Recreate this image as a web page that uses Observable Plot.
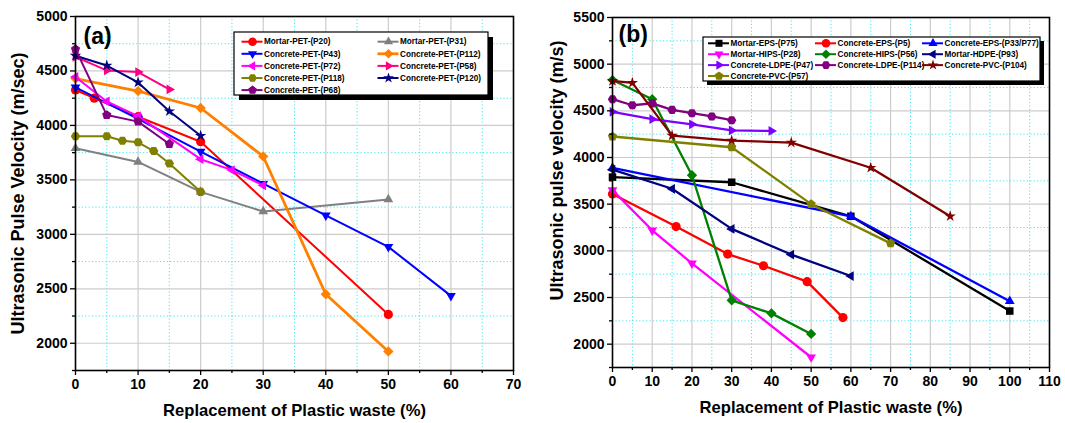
<!DOCTYPE html>
<html><head><meta charset="utf-8">
<script src="https://cdn.jsdelivr.net/npm/d3@7"></script>
<script src="https://cdn.jsdelivr.net/npm/@observablehq/plot@0.6"></script>
<style>
body{margin:0;background:#fff;}
#wrap{display:flex;width:1065px;height:423px;}
</style></head><body><div id="wrap"></div>
<script>
// ---------------- Panel (a) data ----------------
const namesA = ["Mortar-PET-(P20)","Mortar-PET-(P31)","Concrete-PET-(P43)","Concrete-PET-(P112)","Concrete-PET-(P72)","Concrete-PET-(P58)","Concrete-PET-(P118)","Concrete-PET-(P120)","Concrete-PET-(P68)"];
const P20_x = [0,3,10,20,50],            P20_y = [4325,4250,4080,3850,2265];
const P31_x = [0,10,20,30,50],           P31_y = [3790,3665,3390,3210,3320];
const P43_x = [0,10,20,30,40,50,60],     P43_y = [4350,4060,3760,3465,3175,2885,2435];
const P112_x = [0,10,20,30,40,50],       P112_y = [4430,4315,4160,3715,2450,1925];
const P72_x = [0,5,10,20,25,30],         P72_y = [4445,4220,4085,3690,3590,3450];
const P58_x = [0,5,10,15],               P58_y = [4630,4505,4490,4330];
const P118_x = [0,5,7.5,10,12.5,15,20],  P118_y = [3900,3900,3860,3845,3765,3650,3390];
const P120_x = [0,5,10,15,20],           P120_y = [4640,4550,4395,4130,3905];
const P68_x = [0,5,10,15],               P68_y = [4700,4095,4035,3830];
const xTicksA = [0,10,20,30,40,50,60,70];
const yTicksA = [2000,2500,3000,3500,4000,4500,5000];

// ---------------- Panel (b) data ----------------
const namesB = ["Mortar-EPS-(P75)","Concrete-EPS-(P5)","Concrete-EPS-(P33/P77)","Mortar-HIPS-(P28)","Concrete-HIPS-(P56)","Mortar-HDPE-(P93)","Concrete-LDPE-(P47)","Concrete-LDPE-(P114)","Concrete-PVC-(P104)","Concrete-PVC-(P57)"];
const P75_x = [0,30,60,100],             P75_y = [3790,3735,3370,2355];
const P5_x = [0,16,29,38,49,58],         P5_y = [3610,3260,2965,2840,2670,2285];
const P33_x = [0,60,100],                P33_y = [3890,3370,2460];
const P28_x = [0,10,20,50],              P28_y = [3650,3220,2865,1860];
const P56_x = [0,10,20,30,40,50],        P56_y = [4830,4625,3810,2470,2330,2110];
const P93_x = [0,15,30,45,60],           P93_y = [3870,3665,3235,2960,2730];
const P47_x = [0,10,20,30,40],           P47_y = [4490,4410,4355,4290,4285];
const P114_x = [0,5,10,15,20,25,30],     P114_y = [4625,4560,4580,4510,4475,4440,4400];
const P104_x = [0,5,15,30,45,65,85],     P104_y = [4820,4800,4235,4180,4160,3890,3370];
const P57_x = [0,30,50,70],              P57_y = [4225,4110,3500,3080];
const xTicksB = [0,10,20,30,40,50,60,70,80,90,100,110];
const yTicksB = [2000,2500,3000,3500,4000,4500,5000,5500];

const seriesA = [[P20_x,P20_y],[P31_x,P31_y],[P43_x,P43_y],[P112_x,P112_y],[P72_x,P72_y],[P58_x,P58_y],[P118_x,P118_y],[P120_x,P120_y],[P68_x,P68_y]];
const seriesB = [[P75_x,P75_y],[P5_x,P5_y],[P33_x,P33_y],[P28_x,P28_y],[P56_x,P56_y],[P93_x,P93_y],[P47_x,P47_y],[P114_x,P114_y],[P104_x,P104_y],[P57_x,P57_y]];

// ---------------- symbols ----------------
const s3 = Math.sqrt(3);
function tri(theta, k=0.62){ return {draw(ctx,size){
  const y = -Math.sqrt(size*k/(s3*3)); const c=Math.cos(theta), s=Math.sin(theta);
  [[0,2*y],[-s3*y,-y],[s3*y,-y]].forEach(([px,py],i)=>{const X=px*c-py*s, Y=px*s+py*c; i?ctx.lineTo(X,Y):ctx.moveTo(X,Y);});
  ctx.closePath(); }}; }
function poly(n, k, off){ return {draw(ctx,size){
  const R = Math.sqrt(2*size*k/(n*Math.sin(2*Math.PI/n)));
  for(let i=0;i<n;i++){const a=off+2*Math.PI*i/n; const X=R*Math.cos(a), Y=R*Math.sin(a); i?ctx.lineTo(X,Y):ctx.moveTo(X,Y);}
  ctx.closePath(); }}; }
function scaleSym(base,k){ return {draw(ctx,size){ base.draw(ctx,size*k); }}; }
const diamond = {draw(ctx,size){ const h=Math.sqrt(size*0.8/2); ctx.moveTo(0,-h); ctx.lineTo(h,0); ctx.lineTo(0,h); ctx.lineTo(-h,0); ctx.closePath(); }};
const SYM = {
  circle: d3.symbolCircle, square: scaleSym(d3.symbolSquare,0.85),
  up: tri(0), down: tri(Math.PI), left: tri(-Math.PI/2), right: tri(Math.PI/2),
  diamond, hexagon: poly(6,0.85,0), star: scaleSym(d3.symbolStar,0.6), pentagon: poly(5,0.85,-Math.PI/2)
};

// styles (kept separate from data)
const colorsA = ["#ff0000","#808080","#0000ff","#ff8000","#ff00ff","#ff0080","#808000","#000080","#800080"];
const symbolsA = ["circle","up","down","diamond","left","right","hexagon","star","pentagon"];
const widthsA = [2,2,2,2.8,2,2,2,2,2];
const colorsB = ["#000000","#ff0000","#0000ff","#ff00ff","#008000","#000080","#8000ff","#800080","#800000","#808000"];
const symbolsB = ["square","circle","up","down","diamond","left","right","hexagon","star","pentagon"];

const FONT = '"Liberation Sans", Arial, sans-serif';

function panel(opts){
  const {series, colors, symbols, widths, lw, xDomain, yDomain, xTicks, yTicks, width, margins, tag, tagDx, tagDy, xLabel, yLabel, yLabelDx, yLabelDy} = opts;
  const minorX = d3.range(xDomain[0]+5, xDomain[1], 10);
  const minorY = d3.range(yDomain[0], yDomain[1], 500).filter(v=>v>yDomain[0]);
  const majX = xTicks.filter(v=>v>xDomain[0] && v<xDomain[1]);
  const majY = yTicks.filter(v=>v>yDomain[0] && v<yDomain[1]);
  const marks = [
    Plot.ruleX(minorX, {stroke:"#40e8f0", strokeDasharray:"1.2,2.2", strokeWidth:1}),
    Plot.ruleY(minorY, {stroke:"#40e8f0", strokeDasharray:"1.2,2.2", strokeWidth:1}),
    Plot.ruleX(majX, {stroke:"#cccccc", strokeWidth:1.2}),
    Plot.ruleY(majY, {stroke:"#cccccc", strokeWidth:1.2}),
  ];
  series.forEach(([xs,ys],i)=>{
    const pts = xs.map((x,j)=>({x, y: ys[j]}));
    marks.push(Plot.line(pts, {x:"x", y:"y", stroke: colors[i], strokeWidth: widths ? widths[i] : lw}));
    marks.push(Plot.dot(pts, {x:"x", y:"y", symbol: SYM[symbols[i]], r:4.6, fill: colors[i], stroke:"none"}));
  });
  marks.push(
    Plot.frame({stroke:"#000", strokeWidth:1.6}),
    Plot.axisX({ticks: xTicks, tickSize:5, tickPadding:4, fontSize:14, fontWeight:"bold", label:null, stroke:"#000", strokeWidth:1.3, tickFormat:d=>String(d)}),
    Plot.axisX({ticks: d3.range(xDomain[0]+5, xDomain[1], 10), tickSize:3, tickFormat:()=>"", label:null, stroke:"#000", strokeWidth:1.3}),
    Plot.axisY({ticks: yTicks, tickSize:5, tickPadding:3, fontSize:14, fontWeight:"bold", label:null, stroke:"#000", strokeWidth:1.3, tickFormat:d=>String(d)}),
    Plot.axisY({ticks: minorY.filter(v=>v%500!==0).concat([yDomain[0]]), tickSize:3, tickFormat:()=>"", label:null, stroke:"#000", strokeWidth:1.3}),
    Plot.text([tag], {frameAnchor:"top-left", dx:tagDx, dy:tagDy, fontSize:23, fontWeight:"bold", textAnchor:"start", lineAnchor:"middle", fill:"#000"}),
    Plot.text([xLabel], {frameAnchor:"bottom", dy:40, fontSize:16.6, fontWeight:"bold", textAnchor:"middle", lineAnchor:"middle", fill:"#000"}),
    Plot.text([yLabel], {frameAnchor:"left", dx:yLabelDx, dy:yLabelDy, rotate:-90, fontSize:18, fontWeight:"bold", textAnchor:"middle", lineAnchor:"middle", fill:"#000"})
  );
  return Plot.plot({
    width, height:423, ...margins,
    x:{domain:xDomain}, y:{domain:yDomain},
    style:{fontFamily:FONT, fontWeight:"bold", background:"#fff", overflow:"visible"},
    marks
  });
}

function legend(svg, {x0, y0, w, h, shadow, rows, cols, names, colors, symbols, widths}){
  const g = d3.select(svg).append("g").attr("font-family", FONT).attr("font-weight","bold").attr("font-size",8.2).attr("text-anchor","start");
  g.append("rect").attr("x",x0+shadow).attr("y",y0+shadow).attr("width",w).attr("height",h).attr("fill","#000");
  g.append("rect").attr("x",x0).attr("y",y0).attr("width",w).attr("height",h).attr("fill","#fff").attr("stroke","#000").attr("stroke-width",1.2);
  names.forEach((name,i)=>{
    const r = Math.floor(i/cols.length), c = i%cols.length;
    const cy = rows.start + rows.step*r, mx = cols[c];
    g.append("line").attr("x1",mx-11).attr("x2",mx+10).attr("y1",cy).attr("y2",cy).attr("stroke",colors[i]).attr("stroke-width",widths ? widths[i] : 2);
    g.append("path").attr("d", d3.symbol(SYM[symbols[i]], 4.3*4.3*Math.PI)()).attr("transform",`translate(${mx},${cy})`).attr("fill",colors[i]);
    g.append("text").attr("x",mx+11.5).attr("y",cy).attr("dy","0.34em").attr("fill","#000").attr("text-anchor","start").text(name);
  });
}

const wrap = document.getElementById("wrap");
const svgA = panel({series:seriesA, colors:colorsA, symbols:symbolsA, widths:widthsA, xDomain:[0,70], yDomain:[1750,5000], xTicks:xTicksA, yTicks:yTicksA,
  width:540, margins:{marginLeft:75, marginRight:27, marginTop:16, marginBottom:53}, tag:"(a)", tagDx:8, tagDy:20,
  xLabel:"Replacement of Plastic waste (%)", yLabel:"Ultrasonic Pulse Velocity (m/sec)", yLabelDx:-57, yLabelDy:0});
legend(svgA, {x0:234, y0:32, w:254, h:63, shadow:5, rows:{start:41.7, step:12.1}, cols:[252.5, 388.5], names:namesA, colors:colorsA, symbols:symbolsA, widths:widthsA});
wrap.appendChild(svgA);

const svgB = panel({series:seriesB, colors:colorsB, symbols:symbolsB, lw:2.3, xDomain:[0,110], yDomain:[1750,5500], xTicks:xTicksB, yTicks:yTicksB,
  width:525, margins:{marginLeft:72, marginRight:16, marginTop:17, marginBottom:56}, tag:"(b)", tagDx:6, tagDy:17,
  xLabel:"Replacement of Plastic waste (%)", yLabel:"Ultrasonic pulse velocity (m/s)", yLabelDx:-55, yLabelDy:-22});
legend(svgB, {x0:163, y0:37, w:337, h:44, shadow:4, rows:{start:43.3, step:10.9}, cols:[179, 286, 393], names:namesB, colors:colorsB, symbols:symbolsB});
wrap.appendChild(svgB);
</script></body></html>
